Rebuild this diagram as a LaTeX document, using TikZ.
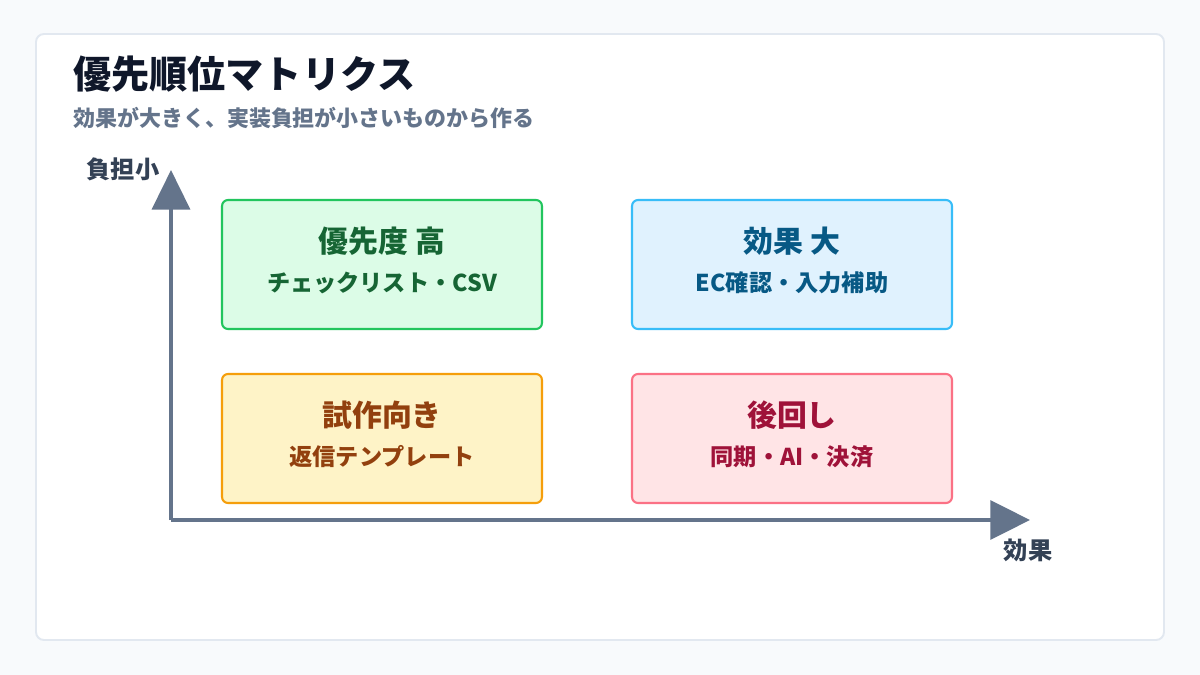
\documentclass[tikz,border=0pt]{standalone}
\usepackage{fontspec}
\setmainfont{Noto Sans CJK JP}
\usepackage{xcolor}
\usetikzlibrary{arrows.meta,positioning}
\definecolor{page}{HTML}{F8FAFC}
\definecolor{edge}{HTML}{E2E8F0}
\definecolor{ink}{HTML}{0F172A}
\definecolor{muted}{HTML}{64748B}
\definecolor{axis}{HTML}{334155}
\definecolor{axisline}{HTML}{64748B}
\definecolor{gfill}{HTML}{DCFCE7}
\definecolor{gline}{HTML}{22C55E}
\definecolor{gtext}{HTML}{166534}
\definecolor{bfill}{HTML}{E0F2FE}
\definecolor{bline}{HTML}{38BDF8}
\definecolor{btext}{HTML}{075985}
\definecolor{yfill}{HTML}{FEF3C7}
\definecolor{yline}{HTML}{F59E0B}
\definecolor{ytext}{HTML}{92400E}
\definecolor{rfill}{HTML}{FFE4E6}
\definecolor{rline}{HTML}{FB7185}
\definecolor{rtext}{HTML}{9F1239}
\tikzset{
  quad/.style={draw=#1line,fill=#1fill,line width=1.2pt,rounded corners=0.12cm,
    minimum width=6.4cm,minimum height=2.58cm,inner sep=0pt},
  qtitle/.style={text=#1text,font=\bfseries\fontsize{17pt}{20pt}\selectfont},
  qsub/.style={text=#1text,font=\bfseries\fontsize{13.2pt}{16pt}\selectfont},
  axlabel/.style={text=axis,font=\bfseries\fontsize{13.8pt}{16pt}\selectfont}
}
\begin{document}
\begin{tikzpicture}[x=0.02cm,y=-0.02cm]
\fill[page] (0,0) rectangle (1200,675);
\filldraw[fill=white,draw=edge,line width=1.1pt,rounded corners=0.16cm] (36,34) rectangle (1164,640);
% heading
\node[anchor=west,inner sep=0pt,text=ink,font=\bfseries\fontsize{21.7pt}{25pt}\selectfont] (title) at (73,74) {優先順位マトリクス};
\node[anchor=west,inner sep=0pt,text=muted,font=\bfseries\fontsize{12.5pt}{15pt}\selectfont] (subtitle) at (73,118) {効果が大きく、実装負担が小さいものから作る};
% axes
\coordinate (origin) at (171,520);
\coordinate (ytip) at (171,170);
\coordinate (xtip) at (1030,520);
\draw[axisline,line width=2.3pt,-{Triangle[length=22.5pt,width=21.5pt]}] (origin) -- (ytip);
\draw[axisline,line width=2.3pt,-{Triangle[length=22.5pt,width=22pt]}] (origin) -- (xtip);
\node[axlabel] (ylab) at (123,169) {負担小};
\node[axlabel] (xlab) at (1028,550) {効果};
% quadrants
\node[quad=g] (high) at (382,264.5) {};
\node[quad=b] (effect) at (792,264.5) {};
\node[quad=y] (trial) at (382,438.5) {};
\node[quad=r] (later) at (792,438.5) {};
\node[qtitle=g] (hightitle) at ([yshift=0.47cm]high.center) {優先度 高};
\node[qsub=g] (highsub) at ([yshift=-0.37cm]high.center) {チェックリスト・CSV};
\node[qtitle=b] (effecttitle) at ([yshift=0.47cm]effect.center) {効果 大};
\node[qsub=b] (effectsub) at ([yshift=-0.37cm]effect.center) {EC確認・入力補助};
\node[qtitle=y] (trialtitle) at ([yshift=0.47cm]trial.center) {試作向き};
\node[qsub=y] (trialsub) at ([yshift=-0.37cm]trial.center) {返信テンプレート};
\node[qtitle=r] (latertitle) at ([yshift=0.47cm]later.center) {後回し};
\node[qsub=r] (latersub) at ([yshift=-0.37cm]later.center) {同期・AI・決済};
\end{tikzpicture}
\end{document}
